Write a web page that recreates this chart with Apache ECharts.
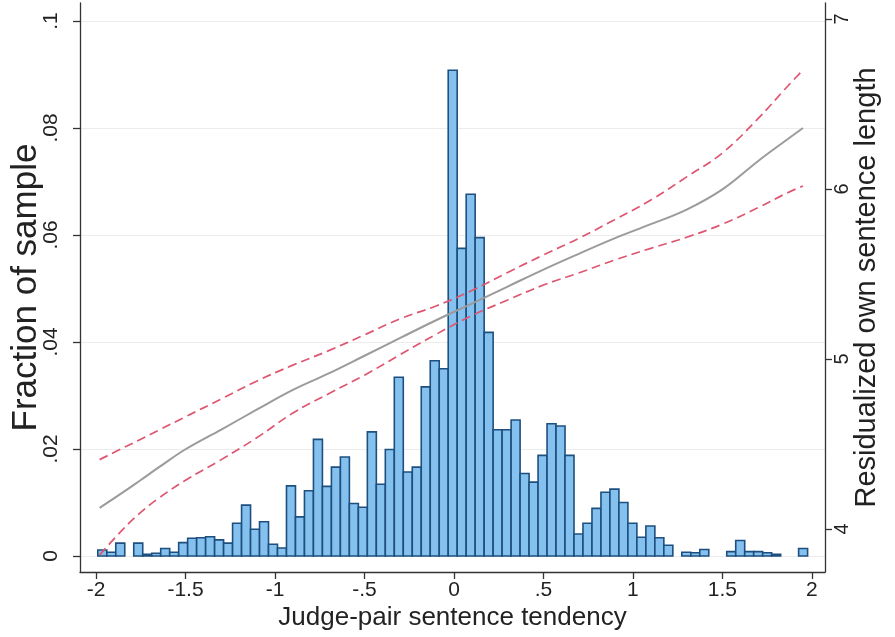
<!DOCTYPE html>
<html>
<head>
<meta charset="utf-8">
<script src="https://cdn.jsdelivr.net/npm/echarts@6/dist/echarts.min.js"></script>
<style>
  html, body { margin: 0; padding: 0; background: #fff; }
  #main { width: 895px; height: 637px; }
</style>
</head>
<body>
<div id="main"></div>
<script>
// histogram: bins of width ~0.05 starting at -1.99
var binStart = -1.99;
var binWidth = 0.0502;
var fractions = [
  0.0011, 0.0007, 0.0024, 0, 0.0024, 0.0003, 0.0005, 0.0014, 0.0007, 0.0025,
  0.0033, 0.0034, 0.0036, 0.0030, 0.0024, 0.0061, 0.0095, 0.0050, 0.0064, 0.0022,
  0.0015, 0.0131, 0.0073, 0.0122, 0.0218, 0.0130, 0.0166, 0.0185, 0.0098, 0.0091,
  0.0232, 0.0134, 0.0199, 0.0334, 0.0157, 0.0166, 0.0316, 0.0365, 0.0350, 0.0908,
  0.0575, 0.0676, 0.0595, 0.0418, 0.0236, 0.0236, 0.0254, 0.0154, 0.0138, 0.0188,
  0.0247, 0.0243, 0.0188, 0.0041, 0.0061, 0.0089, 0.0119, 0.0125, 0.0100, 0.0061,
  0.0035, 0.0056, 0.0034, 0.0020, 0, 0.0007, 0.0006, 0.0012, 0, 0,
  0.0008, 0.0029, 0.0008, 0.0008, 0.0006, 0.0003, 0, 0, 0.0014
];

// fitted line and confidence band (right axis)
var lineX = [-1.98, -1.85, -1.75, -1.65, -1.5, -1.3, -1.1, -0.9, -0.7, -0.5, -0.3, -0.1,
  0.1, 0.3, 0.5, 0.7, 0.9, 1.1, 1.3, 1.5, 1.7, 1.85, 1.95];
var fitY = [4.124, 4.215, 4.288, 4.362, 4.469, 4.585, 4.703, 4.818, 4.915, 5.019, 5.124, 5.228,
  5.326, 5.426, 5.526, 5.620, 5.711, 5.793, 5.879, 5.998, 6.165, 6.282, 6.359];
var ciUpper = [4.408, 4.476, 4.528, 4.581, 4.660, 4.765, 4.871, 4.964, 5.049, 5.142, 5.237, 5.312,
  5.403, 5.509, 5.612, 5.711, 5.821, 5.935, 6.071, 6.212, 6.415, 6.588, 6.700];
var ciLower = [3.847, 3.998, 4.098, 4.181, 4.287, 4.408, 4.538, 4.682, 4.796, 4.905, 5.026, 5.145,
  5.255, 5.347, 5.435, 5.507, 5.583, 5.651, 5.716, 5.793, 5.891, 5.971, 6.018];

var xTicks = [-2, -1.5, -1, -0.5, 0, 0.5, 1, 1.5, 2];
var leftTicks = [0, 0.02, 0.04, 0.06, 0.08, 0.1];
var rightTicks = [4, 5, 6, 7];

var textColor = '#222';
var axisColor = '#333';
var font = '"Liberation Sans", Arial, sans-serif';

function stripZero(v) {
  if (v === 0) return '0';
  return String(v).replace('0.', '.');
}

var bins = [];
fractions.forEach(function (f, i) {
  if (f > 0) {
    var x0 = binStart + i * binWidth;
    bins.push([x0, x0 + binWidth, f]);
  }
});

function pairs(xs, ys) {
  return xs.map(function (x, i) { return [x, ys[i]]; });
}

var chart = echarts.init(document.getElementById('main'), null, { renderer: 'canvas' });

var option = {
  backgroundColor: '#fff',
  animation: false,
  grid: { left: 80, right: 70, top: 3, bottom: 65, containLabel: false, outerBoundsMode: 'none' },
  xAxis: {
    type: 'value',
    min: -2.0895,
    max: 2.073,
    name: 'Judge-pair sentence tendency',
    nameLocation: 'middle',
    nameGap: 33,
    nameMoveOverlap: false,
    nameTextStyle: { fontFamily: font, fontSize: 26, color: textColor },
    axisLine: { onZero: false, lineStyle: { color: axisColor, width: 1.3 } },
    axisTick: { customValues: xTicks, length: 7, lineStyle: { color: axisColor, width: 1.3 } },
    axisLabel: {
      customValues: xTicks,
      formatter: stripZero,
      margin: 8,
      fontFamily: font, fontSize: 21, color: textColor
    },
    splitLine: { show: false }
  },
  yAxis: [
    {
      type: 'value',
      min: -0.003,
      max: 0.10336,
      name: 'Fraction of sample',
      nameLocation: 'middle',
      nameRotate: 90,
      nameGap: 36,
      nameMoveOverlap: false,
      nameTextStyle: { fontFamily: font, fontSize: 35, color: textColor },
      axisLine: { show: true, onZero: false, lineStyle: { color: axisColor, width: 1.3 } },
      axisTick: { show: true, customValues: leftTicks, length: 7, lineStyle: { color: axisColor, width: 1.3 } },
      axisLabel: {
        customValues: leftTicks,
        formatter: stripZero,
        rotate: 90,
        margin: 18,
        fontFamily: font, fontSize: 21, color: textColor
      },
      splitLine: { show: true, lineStyle: { color: '#ececec', width: 1 } }
    },
    {
      type: 'value',
      position: 'right',
      min: 3.747,
      max: 7.094,
      name: 'Residualized own sentence length',
      nameLocation: 'middle',
      nameRotate: 90,
      nameGap: 27,
      nameMoveOverlap: false,
      nameTextStyle: { fontFamily: font, fontSize: 29, color: textColor },
      axisLine: { show: true, onZero: false, lineStyle: { color: axisColor, width: 1.3 } },
      axisTick: { show: true, customValues: rightTicks, length: 7, lineStyle: { color: axisColor, width: 1.3 } },
      axisLabel: {
        customValues: rightTicks,
        rotate: 90,
        margin: 7,
        fontFamily: font, fontSize: 20, color: textColor
      },
      splitLine: { show: false }
    }
  ],
  series: [
    {
      type: 'custom',
      xAxisIndex: 0,
      yAxisIndex: 0,
      encode: { x: [0, 1], y: 2 },
      data: bins,
      renderItem: function (params, api) {
        var top = api.coord([api.value(0), api.value(2)]);
        var bottom = api.coord([api.value(1), 0]);
        return {
          type: 'rect',
          shape: { x: top[0], y: top[1], width: bottom[0] - top[0], height: bottom[1] - top[1] },
          style: { fill: '#85c1ee', stroke: '#1d4f7f', lineWidth: 1.6 }
        };
      },
      z: 2
    },
    {
      type: 'line',
      yAxisIndex: 1,
      data: pairs(lineX, fitY),
      smooth: 0.4,
      symbol: 'none',
      lineStyle: { color: '#9b9b9b', width: 2 },
      z: 3
    },
    {
      type: 'line',
      yAxisIndex: 1,
      data: pairs(lineX, ciUpper),
      smooth: 0.4,
      symbol: 'none',
      lineStyle: { color: '#de5670', width: 1.7, type: [9, 5] },
      z: 4
    },
    {
      type: 'line',
      yAxisIndex: 1,
      data: pairs(lineX, ciLower),
      smooth: 0.4,
      symbol: 'none',
      lineStyle: { color: '#de5670', width: 1.7, type: [9, 5] },
      z: 4
    }
  ]
};

chart.setOption(option);
</script>
</body>
</html>
